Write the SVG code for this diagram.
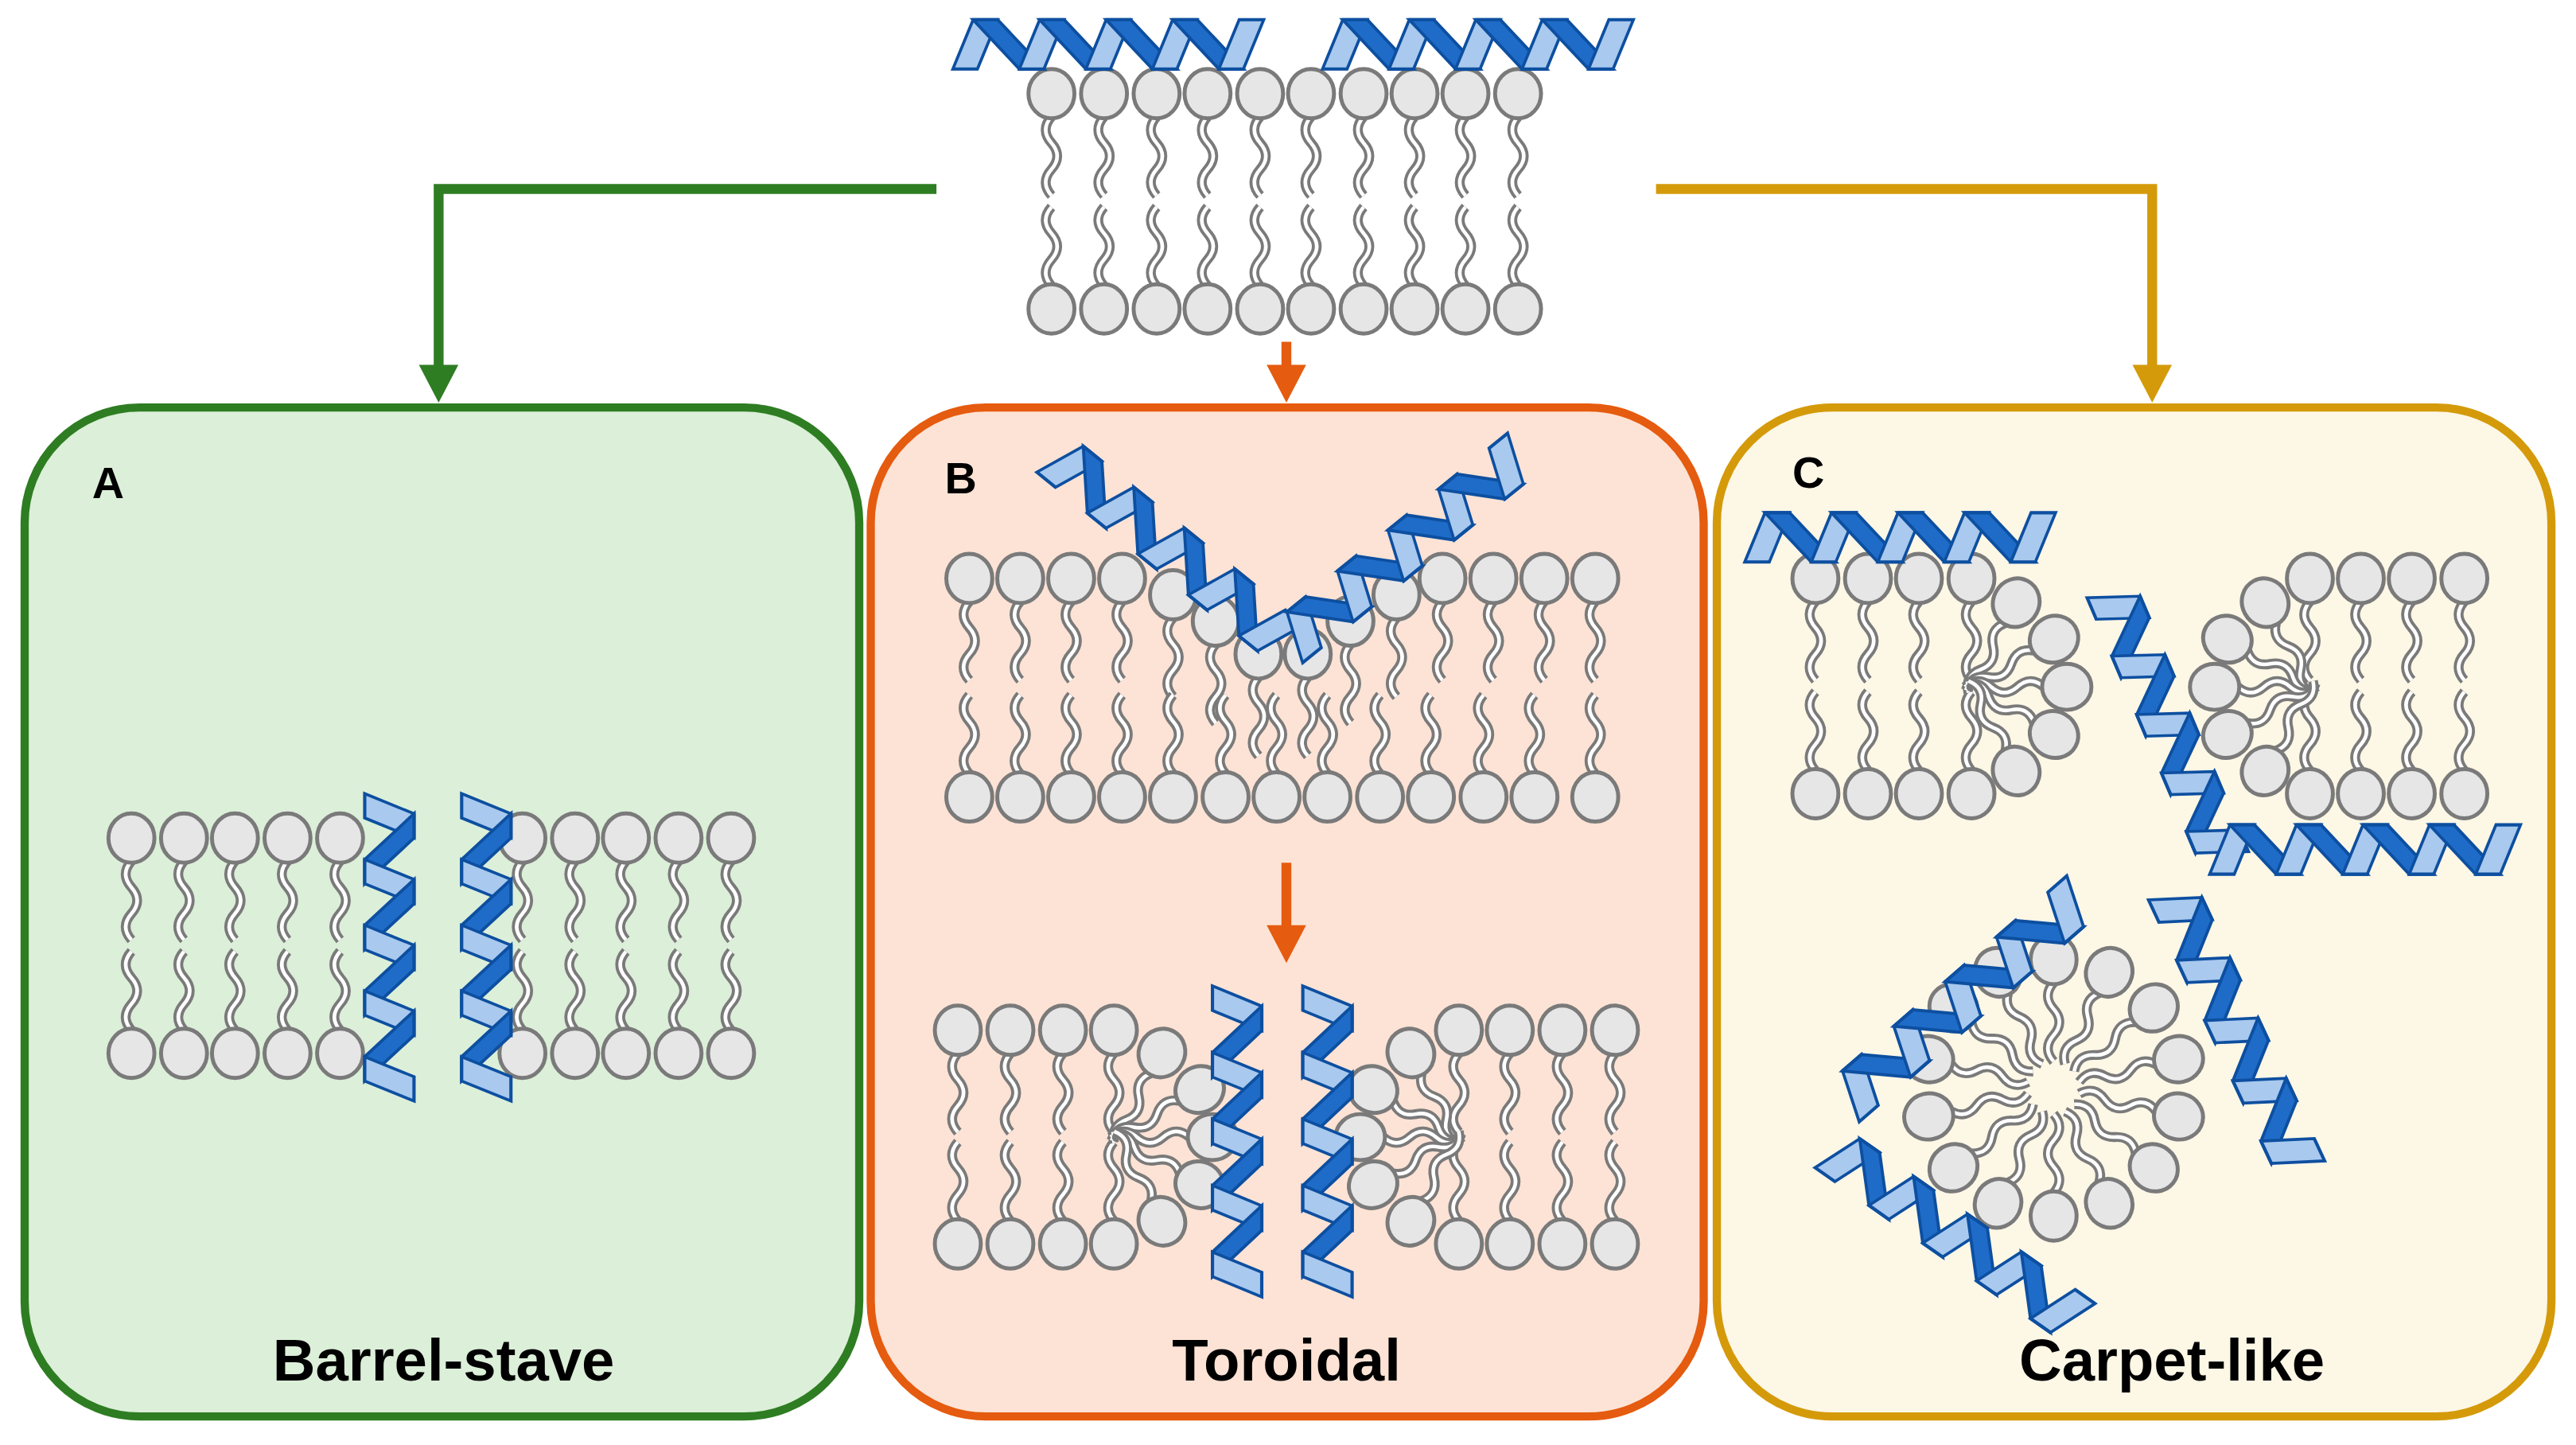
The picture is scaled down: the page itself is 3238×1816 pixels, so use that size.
<svg xmlns="http://www.w3.org/2000/svg" xmlns:xlink="http://www.w3.org/1999/xlink" width="3238" height="1816" viewBox="0 0 3238 1816">
<style>
.hd{fill:#e6e6e6;stroke:#7a7a7a;stroke-width:2.4}
.t1{fill:none;stroke:#7a7a7a;stroke-width:6}
.t2{fill:none;stroke:#ffffff;stroke-width:2.2}
.lt{fill:#a9c9ee;stroke:#0d4fa0;stroke-width:2;stroke-linejoin:miter}
.dk{fill:#1f6cc8;stroke:#0d4fa0;stroke-width:2}
.lbl{font-family:"Liberation Sans",Arial,sans-serif;font-weight:bold;fill:#000}
</style>
<defs>
<g id="tail"><path class="t1" d="M0,14 q-7,8 0,16 t0,16 t0,16"/><path class="t2" d="M0,14 q-7,8 0,16 t0,16 t0,16"/></g>
<g id="up"><use xlink:href="#tail"/><ellipse class="hd" cx="0" cy="0" rx="14" ry="15"/></g>
<g id="dn"><use xlink:href="#up" transform="scale(1,-1)"/></g>
<g id="turn"><polygon class="lt" points="0,30 17,30 31,0 14,0"/><polygon class="dk" points="14,0 31,0 63,30 46,30"/></g>
<g id="h5"><use xlink:href="#turn"/><use xlink:href="#turn" x="46"/><use xlink:href="#turn" x="92"/><use xlink:href="#turn" x="138"/><polygon class="lt" points="184,30 201,30 215,0 198,0"/></g>
</defs>
<g transform="scale(2.0651)">
<g id="panels">
<rect x="15" y="248" width="508" height="614" rx="70" fill="#dcefd9" stroke="#2e7d22" stroke-width="5"/>
<rect x="530" y="248" width="507" height="614" rx="70" fill="#fde3d5" stroke="#e55b0f" stroke-width="5"/>
<rect x="1045" y="248" width="508" height="614" rx="70" fill="#fdf7e6" stroke="#d49a0a" stroke-width="5"/>
<text class="lbl" x="56" y="303" font-size="27">A</text>
<text class="lbl" x="575" y="300" font-size="27">B</text>
<text class="lbl" x="1091" y="297" font-size="27">C</text>
<text class="lbl" x="270" y="840" font-size="36" text-anchor="middle">Barrel-stave</text>
<text class="lbl" x="783" y="840" font-size="36" text-anchor="middle">Toroidal</text>
<text class="lbl" x="1322" y="840" font-size="36" text-anchor="middle">Carpet-like</text>
</g>
<g id="connectors">
<polyline points="570,115 267,115 267,228" fill="none" stroke="#2e7d22" stroke-width="6"/>
<polygon points="255,222 279,222 267,245" fill="#2e7d22"/>
<line x1="783" y1="208" x2="783" y2="228" stroke="#e55b0f" stroke-width="6"/>
<polygon points="771,222 795,222 783,245" fill="#e55b0f"/>
<polyline points="1008,115 1310,115 1310,228" fill="none" stroke="#d49a0a" stroke-width="6"/>
<polygon points="1298,222 1322,222 1310,245" fill="#d49a0a"/>
<line x1="783" y1="525" x2="783" y2="568" stroke="#e55b0f" stroke-width="6"/>
<polygon points="771,563 795,563 783,586" fill="#e55b0f"/>
</g>
<g id="top-membrane">
<use xlink:href="#up" x="640" y="57"/><use xlink:href="#up" x="672" y="57"/><use xlink:href="#up" x="704" y="57"/><use xlink:href="#up" x="735" y="57"/><use xlink:href="#up" x="767" y="57"/><use xlink:href="#up" x="798" y="57"/><use xlink:href="#up" x="830" y="57"/><use xlink:href="#up" x="861" y="57"/><use xlink:href="#up" x="892" y="57"/><use xlink:href="#up" x="924" y="57"/>
<use xlink:href="#dn" x="640" y="188"/><use xlink:href="#dn" x="672" y="188"/><use xlink:href="#dn" x="704" y="188"/><use xlink:href="#dn" x="735" y="188"/><use xlink:href="#dn" x="767" y="188"/><use xlink:href="#dn" x="798" y="188"/><use xlink:href="#dn" x="830" y="188"/><use xlink:href="#dn" x="861" y="188"/><use xlink:href="#dn" x="892" y="188"/><use xlink:href="#dn" x="924" y="188"/>
<use xlink:href="#h5" transform="translate(580,12) scale(0.88,1)"/>
<use xlink:href="#h5" transform="translate(805,12) scale(0.88,1)"/>
</g>
<g id="panelA">
<use xlink:href="#up" x="80" y="510"/><use xlink:href="#up" x="112" y="510"/><use xlink:href="#up" x="143" y="510"/><use xlink:href="#up" x="175" y="510"/><use xlink:href="#up" x="207" y="510"/>
<use xlink:href="#up" x="318" y="510"/><use xlink:href="#up" x="350" y="510"/><use xlink:href="#up" x="381" y="510"/><use xlink:href="#up" x="413" y="510"/><use xlink:href="#up" x="445" y="510"/>
<use xlink:href="#dn" x="80" y="641"/><use xlink:href="#dn" x="112" y="641"/><use xlink:href="#dn" x="143" y="641"/><use xlink:href="#dn" x="175" y="641"/><use xlink:href="#dn" x="207" y="641"/>
<use xlink:href="#dn" x="318" y="641"/><use xlink:href="#dn" x="350" y="641"/><use xlink:href="#dn" x="381" y="641"/><use xlink:href="#dn" x="413" y="641"/><use xlink:href="#dn" x="445" y="641"/>
<use xlink:href="#h5" transform="translate(252,483) rotate(90) scale(0.87,1)"/>
<use xlink:href="#h5" transform="translate(311,483) rotate(90) scale(0.87,1)"/>
</g>
<g id="panelB">
<use xlink:href="#up" x="590" y="352"/><use xlink:href="#up" x="621" y="352"/><use xlink:href="#up" x="652" y="352"/><use xlink:href="#up" x="683" y="352"/>
<use xlink:href="#up" x="714" y="362"/><use xlink:href="#up" x="740" y="378"/><use xlink:href="#up" x="766" y="398"/><use xlink:href="#up" x="796" y="398"/><use xlink:href="#up" x="822" y="378"/><use xlink:href="#up" x="850" y="362"/>
<use xlink:href="#up" x="878" y="352"/><use xlink:href="#up" x="909" y="352"/><use xlink:href="#up" x="940" y="352"/><use xlink:href="#up" x="971" y="352"/>
<use xlink:href="#dn" x="590" y="485"/><use xlink:href="#dn" x="621" y="485"/><use xlink:href="#dn" x="652" y="485"/><use xlink:href="#dn" x="683" y="485"/><use xlink:href="#dn" x="714" y="485"/><use xlink:href="#dn" x="746" y="485"/><use xlink:href="#dn" x="777" y="485"/><use xlink:href="#dn" x="808" y="485"/><use xlink:href="#dn" x="840" y="485"/><use xlink:href="#dn" x="871" y="485"/><use xlink:href="#dn" x="903" y="485"/><use xlink:href="#dn" x="934" y="485"/><use xlink:href="#dn" x="971" y="485"/>
<use xlink:href="#h5" transform="translate(650,264) rotate(39) scale(0.86,1)"/>
<use xlink:href="#h5" transform="translate(774,380) rotate(-39) scale(0.86,1)"/>
<use xlink:href="#up" x="583" y="627"/><use xlink:href="#up" x="615" y="627"/><use xlink:href="#up" x="647" y="627"/><use xlink:href="#up" x="678" y="627"/>
<use xlink:href="#dn" x="583" y="757"/><use xlink:href="#dn" x="615" y="757"/><use xlink:href="#dn" x="647" y="757"/><use xlink:href="#dn" x="678" y="757"/>
<g transform="translate(680,692)"><use xlink:href="#up" transform="rotate(28) translate(0,-58)"/><use xlink:href="#up" transform="rotate(60) translate(0,-58)"/><use xlink:href="#up" transform="rotate(90) translate(0,-58)"/><use xlink:href="#up" transform="rotate(120) translate(0,-58)"/><use xlink:href="#up" transform="rotate(152) translate(0,-58)"/></g>
<use xlink:href="#up" x="888" y="627"/><use xlink:href="#up" x="919" y="627"/><use xlink:href="#up" x="951" y="627"/><use xlink:href="#up" x="983" y="627"/>
<use xlink:href="#dn" x="888" y="757"/><use xlink:href="#dn" x="919" y="757"/><use xlink:href="#dn" x="951" y="757"/><use xlink:href="#dn" x="983" y="757"/>
<g transform="translate(886,692)"><use xlink:href="#up" transform="rotate(-28) translate(0,-58)"/><use xlink:href="#up" transform="rotate(-60) translate(0,-58)"/><use xlink:href="#up" transform="rotate(-90) translate(0,-58)"/><use xlink:href="#up" transform="rotate(-120) translate(0,-58)"/><use xlink:href="#up" transform="rotate(-152) translate(0,-58)"/></g>
<use xlink:href="#h5" transform="translate(768,600) rotate(90) scale(0.88,1)"/>
<use xlink:href="#h5" transform="translate(823,600) rotate(90) scale(0.88,1)"/>
</g>
<g id="panelC">
<use xlink:href="#up" x="1105" y="352"/><use xlink:href="#up" x="1137" y="352"/><use xlink:href="#up" x="1168" y="352"/><use xlink:href="#up" x="1200" y="352"/>
<use xlink:href="#dn" x="1105" y="483"/><use xlink:href="#dn" x="1137" y="483"/><use xlink:href="#dn" x="1168" y="483"/><use xlink:href="#dn" x="1200" y="483"/>
<g transform="translate(1200,418)"><use xlink:href="#up" transform="rotate(28) translate(0,-58)"/><use xlink:href="#up" transform="rotate(60) translate(0,-58)"/><use xlink:href="#up" transform="rotate(90) translate(0,-58)"/><use xlink:href="#up" transform="rotate(120) translate(0,-58)"/><use xlink:href="#up" transform="rotate(152) translate(0,-58)"/></g>
<use xlink:href="#up" x="1406" y="352"/><use xlink:href="#up" x="1437" y="352"/><use xlink:href="#up" x="1468" y="352"/><use xlink:href="#up" x="1500" y="352"/>
<use xlink:href="#dn" x="1406" y="483"/><use xlink:href="#dn" x="1437" y="483"/><use xlink:href="#dn" x="1468" y="483"/><use xlink:href="#dn" x="1500" y="483"/>
<g transform="translate(1406,418)"><use xlink:href="#up" transform="rotate(-28) translate(0,-58)"/><use xlink:href="#up" transform="rotate(-60) translate(0,-58)"/><use xlink:href="#up" transform="rotate(-90) translate(0,-58)"/><use xlink:href="#up" transform="rotate(-120) translate(0,-58)"/><use xlink:href="#up" transform="rotate(-152) translate(0,-58)"/></g>
<use xlink:href="#h5" transform="translate(1062,312) scale(0.88,1)"/>
<use xlink:href="#h5" transform="translate(1298,352) rotate(67) scale(0.84,1)"/>
<use xlink:href="#h5" transform="translate(1345,502) scale(0.88,1)"/>
<g transform="translate(1250,662)">
<use xlink:href="#up" transform="rotate(0) translate(0,-78)"/><use xlink:href="#up" transform="rotate(25.7) translate(0,-78)"/><use xlink:href="#up" transform="rotate(51.4) translate(0,-78)"/><use xlink:href="#up" transform="rotate(77.1) translate(0,-78)"/><use xlink:href="#up" transform="rotate(102.9) translate(0,-78)"/><use xlink:href="#up" transform="rotate(128.6) translate(0,-78)"/><use xlink:href="#up" transform="rotate(154.3) translate(0,-78)"/><use xlink:href="#up" transform="rotate(180) translate(0,-78)"/><use xlink:href="#up" transform="rotate(205.7) translate(0,-78)"/><use xlink:href="#up" transform="rotate(231.4) translate(0,-78)"/><use xlink:href="#up" transform="rotate(257.1) translate(0,-78)"/><use xlink:href="#up" transform="rotate(282.9) translate(0,-78)"/><use xlink:href="#up" transform="rotate(308.6) translate(0,-78)"/><use xlink:href="#up" transform="rotate(334.3) translate(0,-78)"/>
</g>
<use xlink:href="#h5" transform="translate(1112,660) rotate(-41) scale(0.9,1)"/>
<use xlink:href="#h5" transform="translate(1335,535) rotate(65) scale(0.88,1)"/>
<use xlink:href="#h5" transform="translate(1122,686) rotate(35) scale(0.87,1)"/>
</g>
</g>
</svg>
